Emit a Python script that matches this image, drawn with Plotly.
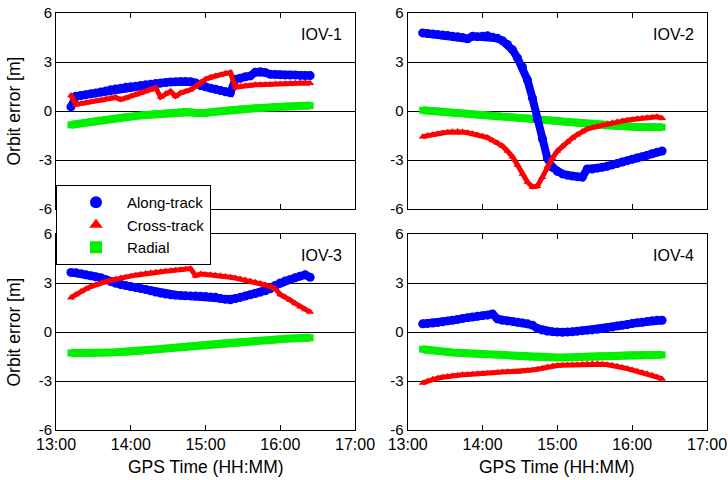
import plotly.graph_objects as go

# minutes after 13:00
minutes = [12, 16, 20, 24, 28, 32, 36, 40, 44, 48, 52, 56, 60, 64, 68, 72, 76, 80, 84, 88,
           92, 96, 100, 104, 108, 112, 116, 120, 124, 128, 132, 136, 140, 144, 148, 152, 156,
           160, 164, 168, 172, 176, 180, 184, 188, 192, 196, 200, 204]

iov1_along = [0.25, 0.9, 0.95, 1.0, 1.05, 1.1, 1.17, 1.23, 1.3, 1.35, 1.4, 1.45, 1.48, 1.52, 1.56,
              1.6, 1.64, 1.68, 1.71, 1.74, 1.77, 1.79, 1.8, 1.8, 1.79, 1.72, 1.55, 1.48, 1.4, 1.33,
              1.25, 1.18, 1.12, 1.95, 2.0, 2.1, 2.15, 2.38, 2.4, 2.35, 2.25, 2.23, 2.22, 2.2, 2.2,
              2.2, 2.18, 2.17, 2.17]
iov1_cross = [0.95, 0.4, 0.45, 0.5, 0.55, 0.6, 0.65, 0.72, 0.78, 0.83, 0.7, 0.8, 0.9, 1.0, 1.1,
              1.2, 1.3, 1.42, 0.85, 1.05, 1.2, 0.9, 1.1, 1.2, 1.3, 1.5, 1.75, 1.95, 2.05, 2.15,
              2.2, 2.3, 2.35, 1.45, 1.5, 1.55, 1.55, 1.6, 1.6, 1.62, 1.63, 1.65, 1.65, 1.67, 1.68,
              1.7, 1.7, 1.72, 1.7]
iov1_radial = [-0.85, -0.8, -0.75, -0.7, -0.65, -0.6, -0.56, -0.52, -0.48, -0.44, -0.4, -0.36,
               -0.33, -0.3, -0.27, -0.24, -0.21, -0.18, -0.16, -0.13, -0.1, -0.08, -0.05, -0.03,
               -0.08, -0.12, -0.15, -0.12, -0.08, -0.04, 0.0, 0.03, 0.06, 0.09, 0.11, 0.13, 0.15,
               0.17, 0.19, 0.21, 0.23, 0.25, 0.27, 0.29, 0.3, 0.32, 0.33, 0.34, 0.33]

iov2_along = [4.78, 4.75, 4.72, 4.68, 4.65, 4.62, 4.58, 4.55, 4.5, 4.42, 4.57, 4.55, 4.58, 4.6,
              4.52, 4.45, 4.3, 4.08, 3.75, 3.25, 2.7, 1.9, 0.8, -0.5, -1.7, -2.9, -3.45, -3.7,
              -3.85, -3.93, -3.98, -4.03, -4.05, -3.55, -3.55, -3.5, -3.45, -3.38, -3.3, -3.22,
              -3.12, -3.04, -2.96, -2.88, -2.8, -2.72, -2.62, -2.52, -2.45]
iov2_cross = [-1.57, -1.5, -1.45, -1.4, -1.35, -1.3, -1.27, -1.25, -1.28, -1.33, -1.4, -1.47,
              -1.55, -1.63, -1.8, -1.95, -2.15, -2.45, -2.8, -3.3, -3.85, -4.35, -4.65, -4.6,
              -4.05, -3.4, -2.9, -2.45, -2.15, -1.9, -1.65, -1.45, -1.25, -1.1, -1.02, -0.95,
              -0.88, -0.8, -0.72, -0.66, -0.6, -0.56, -0.52, -0.48, -0.45, -0.42, -0.38, -0.35,
              -0.45]
iov2_radial = [0.05, 0.03, 0.0, -0.02, -0.05, -0.07, -0.1, -0.12, -0.14, -0.17, -0.19, -0.21,
               -0.24, -0.26, -0.29, -0.31, -0.34, -0.36, -0.39, -0.41, -0.43, -0.45, -0.47,
               -0.49, -0.52, -0.55, -0.58, -0.61, -0.64, -0.67, -0.7, -0.73, -0.76, -0.79, -0.82,
               -0.85, -0.88, -0.9, -0.92, -0.94, -0.95, -0.96, -0.97, -0.98, -0.98, -0.99, -1.0,
               -1.0, -1.0]

iov3_along = [3.65, 3.62, 3.57, 3.5, 3.44, 3.38, 3.32, 3.2, 3.08, 2.98, 2.9, 2.84, 2.78, 2.72,
              2.66, 2.6, 2.52, 2.45, 2.38, 2.32, 2.28, 2.25, 2.23, 2.22, 2.21, 2.2, 2.19, 2.17,
              2.15, 2.12, 2.05, 2.0, 1.97, 2.05, 2.12, 2.2, 2.28, 2.36, 2.44, 2.52, 2.65, 2.85,
              3.0, 3.12, 3.22, 3.32, 3.42, 3.5, 3.35]
iov3_cross = [2.1, 2.3, 2.48, 2.64, 2.78, 2.9, 3.0, 3.08, 3.16, 3.24, 3.3, 3.36, 3.42, 3.48,
              3.53, 3.58, 3.62, 3.66, 3.69, 3.72, 3.75, 3.78, 3.81, 3.84, 3.88, 3.45, 3.55, 3.52,
              3.5, 3.48, 3.45, 3.4, 3.35, 3.3, 3.24, 3.18, 3.12, 3.05, 2.97, 2.88, 2.78, 2.65,
              2.3, 2.15, 1.95, 1.75, 1.55, 1.37, 1.22]
iov3_radial = [-1.28, -1.29, -1.3, -1.3, -1.29, -1.28, -1.27, -1.26, -1.25, -1.24, -1.23, -1.22,
               -1.21, -1.19, -1.16, -1.13, -1.1, -1.07, -1.04, -1.01, -0.98, -0.95, -0.92, -0.89,
               -0.86, -0.83, -0.8, -0.77, -0.74, -0.72, -0.69, -0.67, -0.65, -0.62, -0.6, -0.58,
               -0.56, -0.54, -0.52, -0.5, -0.48, -0.46, -0.44, -0.42, -0.4, -0.38, -0.36, -0.33,
               -0.35]

iov4_along = [0.5, 0.52, 0.55, 0.58, 0.62, 0.68, 0.72, 0.77, 0.83, 0.88, 0.92, 0.96, 1.0, 1.03,
              1.1, 0.8, 0.72, 0.68, 0.65, 0.6, 0.55, 0.5, 0.42, 0.22, 0.12, 0.05, 0.02, 0.0,
              -0.02, 0.0, 0.02, 0.05, 0.08, 0.1, 0.13, 0.17, 0.21, 0.25, 0.3, 0.36, 0.41, 0.46,
              0.52, 0.56, 0.6, 0.65, 0.69, 0.72, 0.72]
iov4_cross = [-3.12, -3.0, -2.9, -2.83, -2.77, -2.72, -2.68, -2.65, -2.62, -2.6, -2.58, -2.56,
              -2.55, -2.53, -2.52, -2.48, -2.45, -2.43, -2.45, -2.45, -2.42, -2.38, -2.33, -2.28,
              -2.22, -2.15, -2.08, -2.05, -2.04, -2.03, -2.02, -2.0, -1.98, -1.96, -1.95, -1.95,
              -1.97, -2.0, -2.04, -2.1, -2.17, -2.24, -2.32, -2.4, -2.48, -2.56, -2.65, -2.76,
              -2.88]
iov4_radial = [-1.05, -1.1, -1.14, -1.17, -1.2, -1.23, -1.25, -1.27, -1.29, -1.31, -1.33, -1.34,
               -1.35, -1.37, -1.38, -1.4, -1.42, -1.44, -1.46, -1.48, -1.5, -1.52, -1.53, -1.54,
               -1.55, -1.56, -1.56, -1.56, -1.56, -1.55, -1.54, -1.52, -1.5, -1.49, -1.48, -1.47,
               -1.46, -1.45, -1.44, -1.43, -1.42, -1.41, -1.4, -1.4, -1.39, -1.39, -1.38, -1.38,
               -1.4]

panel_names = ["IOV-1", "IOV-2", "IOV-3", "IOV-4"]
series_names = ["Along-track", "Cross-track", "Radial"]
y_ticks = [-6, -3, 0, 3, 6]
y_labels = ["-6", "-3", "0", "3", "6"]
x_ticks = ["13:00", "14:00", "15:00", "16:00", "17:00"]
y_title = "Orbit error [m]"
x_title = "GPS Time (HH:MM)"

panels = [
    (iov1_along, iov1_cross, iov1_radial),
    (iov2_along, iov2_cross, iov2_radial),
    (iov3_along, iov3_cross, iov3_radial),
    (iov4_along, iov4_cross, iov4_radial),
]

DAY = "2012-10-10 "
times = [DAY + "%02d:%02d:00" % (13 + m // 60, m % 60) for m in minutes]
tick_dates = [DAY + t + ":00" for t in x_ticks]

styles = {
    "Along-track": dict(color="#0000ff", symbol="circle", size=9, lw=8),
    "Cross-track": dict(color="#ff0000", symbol="triangle-up", size=7, lw=5),
    "Radial": dict(color="#00f000", symbol="square", size=7, lw=8),
}
draw_order = ["Radial", "Along-track", "Cross-track"]
rank = {"Along-track": 1, "Cross-track": 2, "Radial": 3}

fig = go.Figure()
for i, vals in enumerate(panels):
    xa = "x" if i == 0 else "x%d" % (i + 1)
    ya = "y" if i == 0 else "y%d" % (i + 1)
    data = dict(zip(series_names, vals))
    for name in draw_order:
        st = styles[name]
        fig.add_trace(go.Scatter(
            x=times, y=data[name], mode="lines", xaxis=xa, yaxis=ya,
            line=dict(color=st["color"], width=st["lw"]), showlegend=False,
            hoverinfo="skip"))
        fig.add_trace(go.Scatter(
            x=times, y=data[name], mode="markers", name=name, xaxis=xa, yaxis=ya,
            marker=dict(color=st["color"], symbol=st["symbol"], size=st["size"], line=dict(width=0)),
            showlegend=(i == 0), legendrank=rank[name]))

W, H = 728, 480
ml, mr, mt, mb = 56, 21, 13, 50
pw, ph = W - ml - mr, H - mt - mb
xd_left = [0, (355 - ml) / pw]
xd_right = [(407.7 - ml) / pw, 1]
yd_top = [(H - mb - 209) / ph, 1]
yd_bot = [0, (H - mb - 234) / ph]

font = "Liberation Sans, Arial, Helvetica, sans-serif"

def xaxis(domain, anchor, labels):
    return dict(domain=domain, anchor=anchor, type="date", automargin=False,
                range=[tick_dates[0], tick_dates[-1]], tickvals=tick_dates,
                ticktext=x_ticks if labels else [""] * len(x_ticks),
                ticks="inside", ticklen=5, tickcolor="black", mirror="ticks",
                showline=True, linecolor="black", linewidth=1, showgrid=False,
                zeroline=False, tickfont=dict(size=16, color="black"))

def yaxis(domain, anchor):
    return dict(domain=domain, anchor=anchor, range=[-6, 6], tickvals=y_ticks,
                ticktext=y_labels, automargin=False,
                ticks="inside", ticklen=5, tickcolor="black", mirror="ticks",
                showline=True, linecolor="black", linewidth=1, showgrid=True,
                gridcolor="black", gridwidth=1, zeroline=False,
                tickfont=dict(size=15, color="black"))

fig.update_layout(
    width=W, height=H, margin=dict(l=ml, r=mr, t=mt, b=mb, autoexpand=False),
    paper_bgcolor="white", plot_bgcolor="white",
    font=dict(family=font, color="black"),
    xaxis=xaxis(xd_left, "y", False), yaxis=yaxis(yd_top, "x"),
    xaxis2=xaxis(xd_right, "y2", False), yaxis2=yaxis(yd_top, "x2"),
    xaxis3=xaxis(xd_left, "y3", True), yaxis3=yaxis(yd_bot, "x3"),
    xaxis4=xaxis(xd_right, "y4", True), yaxis4=yaxis(yd_bot, "x4"),
    legend=dict(x=0, y=(H - mb - 185) / ph, xanchor="left", yanchor="top",
                bgcolor="white", bordercolor="black", borderwidth=1,
                font=dict(size=15, color="black"), itemsizing="constant",
                indentation=8, itemwidth=52, entrywidth=95, entrywidthmode="pixels"),
    showlegend=True,
)

for i, name in enumerate(panel_names):
    sfx = "" if i == 0 else str(i + 1)
    fig.add_annotation(text=name, xref="x%s domain" % sfx, yref="y%s domain" % sfx,
                       x=0.963, y=0.888, xanchor="right", yanchor="middle",
                       showarrow=False, font=dict(size=16, color="black"))

# axis titles
for yd in (yd_top, yd_bot):
    fig.add_annotation(text=y_title, xref="paper", yref="paper",
                       x=(13.5 - ml) / pw, y=(yd[0] + yd[1]) / 2, textangle=-90,
                       xanchor="center", yanchor="middle", showarrow=False,
                       font=dict(size=17.5, color="black"))
for xd in (xd_left, xd_right):
    fig.add_annotation(text=x_title, xref="paper", yref="paper",
                       x=(xd[0] + xd[1]) / 2, y=(430 - 467) / ph,
                       xanchor="center", yanchor="middle", showarrow=False,
                       font=dict(size=17.5, color="black"))

fig.write_html("out.html", config={"displayModeBar": False},
               post_script="document.body.style.margin='0';")
